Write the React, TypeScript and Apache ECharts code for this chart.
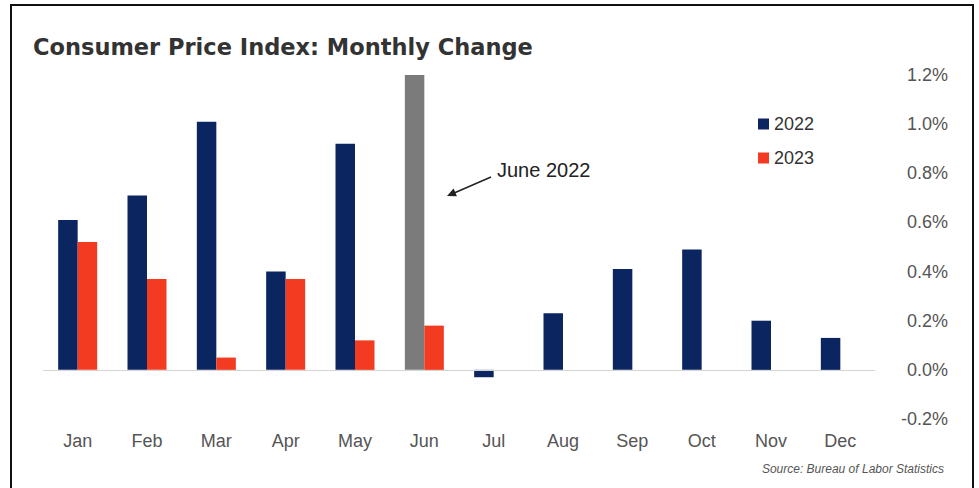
import React, { useEffect, useRef } from "react";
import * as echarts from "echarts";

const months = ["Jan", "Feb", "Mar", "Apr", "May", "Jun", "Jul", "Aug", "Sep", "Oct", "Nov", "Dec"];
const cpi2022 = [0.61, 0.71, 1.01, 0.4, 0.92, 1.2, -0.03, 0.23, 0.41, 0.49, 0.2, 0.13];
const cpi2023 = [0.52, 0.37, 0.05, 0.37, 0.12, 0.18, null, null, null, null, null, null];
const highlightIndex = 5;
const yTicks = { min: -0.2, max: 1.2, interval: 0.2 };

const NAVY = "#0b2560";
const RED = "#f23b20";
const GRAY = "#7b7b7b";

export default function App() {
  const ref = useRef<HTMLDivElement>(null);
  useEffect(() => {
    if (!ref.current) return;
    const chart = echarts.init(ref.current, null, { renderer: "svg" });
    const font = "Liberation Sans, Arial, sans-serif";
    chart.setOption({
      animation: false,
      backgroundColor: "#ffffff",
      title: {
        text: "Consumer Price Index: Monthly Change",
        left: 28,
        top: 30,
        textStyle: { fontFamily: "DejaVu Sans, sans-serif", fontSize: 22.5, fontWeight: "bold", color: "#333333" },
      },
      legend: {
        orient: "vertical",
        left: 753,
        top: 110,
        itemWidth: 11,
        itemHeight: 11,
        itemGap: 16,
        icon: "rect",
        textStyle: { fontFamily: font, fontSize: 18, color: "#333333" },
        data: ["2022", "2023"],
      },
      grid: { left: 43, right: 104, top: 75, bottom: 69, outerBoundsMode: "none", containLabel: false },
      xAxis: {
        type: "category",
        data: months,
        axisLine: { show: false, onZero: false },
        axisTick: { show: false },
        axisLabel: { margin: 13, fontFamily: font, fontSize: 18, color: "#555555" },
      },
      yAxis: {
        type: "value",
        position: "right",
        min: yTicks.min,
        max: yTicks.max,
        interval: yTicks.interval,
        splitLine: { show: false },
        axisLine: { show: false },
        axisTick: { show: false },
        axisLabel: {
          align: "right",
          margin: 73,
          fontFamily: font,
          fontSize: 18,
          color: "#555555",
          formatter: (v: number) => v.toFixed(1) + "%",
        },
      },
      series: [
        {
          name: "2022",
          type: "bar",
          barWidth: 19.5,
          barGap: "0%",
          itemStyle: { color: NAVY },
          data: cpi2022.map((v, i) =>
            i === highlightIndex ? { value: v, itemStyle: { color: GRAY } } : v
          ),
          markLine: {
            silent: true,
            symbol: ["none", "none"],
            label: { show: false },
            lineStyle: { color: "#d4d4d4", width: 1, type: "solid" },
            data: [{ yAxis: 0 }],
          },
        },
        {
          name: "2023",
          type: "bar",
          barWidth: 19.5,
          barGap: "0%",
          itemStyle: { color: RED },
          data: cpi2023,
        },
      ],
      graphic: [
        {
          type: "rect",
          shape: { x: 11, y: 5, width: 962, height: 500 },
          style: { fill: "none", stroke: "#111111", lineWidth: 2 },
          silent: true,
        },
        {
          type: "text",
          x: 497,
          y: 170,
          style: {
            text: "June 2022",
            fontFamily: font,
            fontSize: 20,
            fill: "#222222",
            textVerticalAlign: "middle",
            verticalAlign: "middle",
          },
        },
        {
          type: "line",
          shape: { x1: 491, y1: 177, x2: 453, y2: 193.5 },
          style: { stroke: "#222222", lineWidth: 1.5 },
        },
        {
          type: "polygon",
          shape: { points: [[447, 196], [456.9, 196.3], [453.6, 188.6]] },
          style: { fill: "#222222" },
        },
        {
          type: "text",
          x: 944,
          y: 469,
          style: {
            text: "Source: Bureau of Labor Statistics",
            fontFamily: font,
            fontSize: 12,
            fontStyle: "italic",
            fill: "#555555",
            align: "right",
            textAlign: "right",
            verticalAlign: "middle",
            textVerticalAlign: "middle",
          },
        },
      ],
    });
    return () => chart.dispose();
  }, []);
  return (
    <div
      ref={ref}
      style={{ position: "fixed", left: 0, top: 0, width: 979, height: 488 }}
    />
  );
}
